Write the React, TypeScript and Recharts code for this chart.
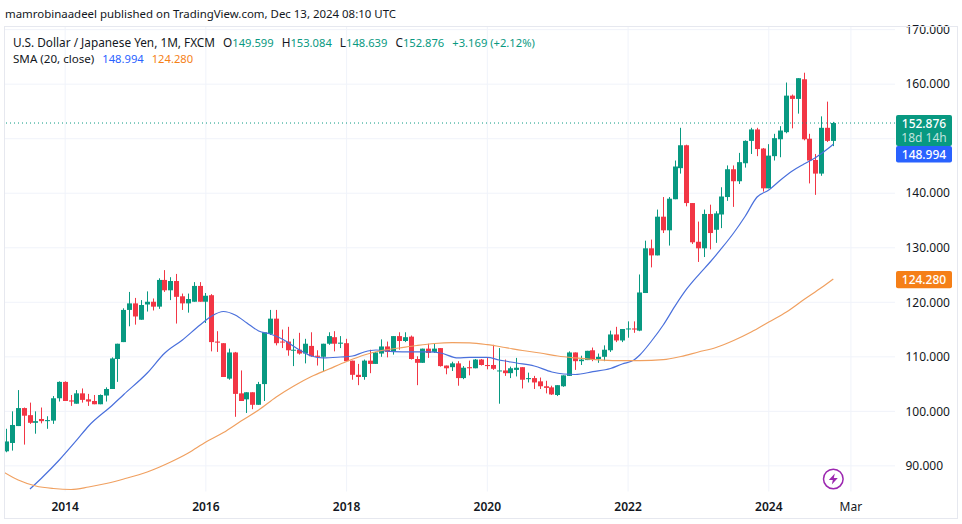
import React from "react";
import { ComposedChart, Bar, Line, XAxis, YAxis, CartesianGrid, ReferenceLine, ReferenceDot } from "recharts";

const FONT = '"Noto Sans", sans-serif';
const UP = "#089981";
const DOWN = "#f23645";
const INK = "#131722";
const BLUE = "#2962ff";
const ORANGE = "#f57f17";

// candle index 0 = Mar 2013, monthly, last = Dec 2024
const opens = [
  92.67, 94.2, 97.3, 100.6, 99.3, 97.9, 98.6, 98.2, 98.3, 102.4,
  105.4, 102.0, 101.4, 103.3, 102.2, 101.9, 101.3, 102.9, 104.1, 109.6,
  112.7, 118.6, 119.8, 116.8, 119.6, 120.1, 119.2, 124.1, 122.2, 123.9,
  121.1, 119.8, 120.1, 123.0, 120.1, 121.3, 112.8, 112.5, 106.0, 110.8,
  103.3, 102.2, 103.5, 101.2, 105.0, 114.2, 117.0, 112.8, 112.8, 111.2,
  111.3, 110.6, 112.0, 110.2, 110.0, 112.4, 113.6, 112.4, 112.5, 109.3,
  106.7, 106.3, 109.3, 108.7, 110.6, 111.9, 110.9, 113.8, 112.9, 113.7,
  109.6, 108.9, 111.5, 110.9, 111.6, 108.4, 108.1, 108.8, 106.1, 108.1,
  107.9, 109.5, 108.5, 108.5, 107.4, 107.5, 107.0, 107.6, 108.1, 105.9,
  106.1, 105.5, 104.6, 104.4, 103.0, 104.6, 106.5, 110.8, 109.2, 109.4,
  111.2, 109.6, 110.0, 111.2, 114.1, 113.0, 115.1, 115.2, 114.8, 121.7,
  129.9, 128.6, 135.7, 133.2, 138.9, 144.6, 148.8, 138.2, 131.1, 129.9,
  136.2, 133.3, 136.1, 139.3, 144.4, 142.2, 145.5, 149.6, 151.7, 148.2,
  140.9, 146.8, 149.9, 151.2, 157.9, 157.3, 160.9, 150.0, 146.1, 143.6,
  152.0, 149.599,
];
const highs = [
  96.8, 100.0, 103.9, 100.7, 101.6, 100.0, 100.7, 99.1, 102.8, 105.5,
  105.5, 103.0, 103.9, 104.2, 103.2, 103.0, 103.1, 104.4, 109.9, 112.4,
  118.9, 121.9, 120.8, 120.4, 122.0, 120.7, 124.4, 125.9, 124.6, 125.2,
  121.6, 121.6, 123.7, 123.7, 121.7, 121.5, 114.7, 112.5, 111.5, 110.9,
  107.5, 103.5, 103.5, 105.4, 114.5, 118.6, 118.6, 115.0, 115.5, 113.3,
  114.4, 113.3, 114.5, 111.2, 112.4, 114.5, 114.7, 113.8, 113.3, 109.3,
  108.7, 109.5, 111.3, 110.9, 113.2, 112.8, 113.8, 114.5, 114.5, 113.9,
  110.1, 111.5, 112.4, 112.5, 111.6, 108.4, 109.1, 109.2, 108.3, 109.3,
  109.6, 109.6, 109.8, 112.2, 111.6, 109.5, 108.2, 109.8, 108.1, 107.1,
  106.5, 106.2, 105.6, 104.7, 104.8, 106.6, 111.0, 110.8, 110.2, 111.1,
  111.7, 110.6, 112.1, 114.8, 115.5, 115.1, 116.5, 116.5, 125.1, 131.3,
  131.5, 137.0, 139.3, 139.3, 146.0, 152.0, 148.9, 138.2, 134.8, 137.0,
  137.9, 136.7, 141.1, 145.1, 145.1, 147.4, 149.7, 152.0, 152.0, 148.3,
  149.0, 150.9, 152.3, 160.3, 158.1, 161.1, 162.1, 150.9, 147.2, 154.1,
  156.8, 153.084,
];
const lows = [
  92.5, 92.8, 97.3, 93.9, 97.7, 95.9, 97.8, 96.8, 97.7, 101.8,
  101.9, 101.0, 101.4, 101.6, 101.0, 101.3, 101.3, 101.8, 104.1, 105.4,
  112.7, 115.6, 115.9, 116.8, 118.3, 118.5, 118.8, 121.9, 120.4, 116.1,
  118.6, 118.1, 120.1, 120.1, 116.2, 111.0, 110.9, 106.3, 105.8, 99.0,
  101.9, 99.7, 100.4, 101.2, 101.9, 114.0, 112.1, 111.6, 110.2, 108.3,
  110.4, 108.8, 110.0, 108.4, 107.4, 112.2, 111.0, 111.6, 109.2, 105.8,
  104.8, 105.8, 107.0, 108.7, 110.0, 109.9, 110.4, 111.3, 112.7, 109.5,
  104.8, 108.9, 109.8, 110.7, 108.2, 106.8, 107.4, 104.7, 105.9, 106.6,
  107.9, 108.4, 107.7, 107.6, 101.4, 106.5, 106.1, 106.4, 104.2, 105.3,
  104.1, 104.1, 103.3, 103.0, 102.8, 104.5, 106.5, 107.6, 108.5, 109.4,
  109.2, 108.9, 109.2, 110.9, 112.7, 112.7, 113.5, 114.4, 114.7, 121.7,
  126.4, 128.6, 132.7, 130.4, 138.9, 143.6, 137.6, 130.7, 127.4, 128.3,
  129.7, 130.9, 133.6, 138.6, 137.5, 141.7, 144.7, 147.2, 146.8, 140.3,
  140.9, 146.0, 146.6, 151.0, 151.9, 154.6, 149.7, 141.8, 139.7, 143.2,
  149.4, 148.639,
];
const closes = [
  94.48, 97.5, 100.6, 99.2, 97.9, 98.2, 98.2, 98.4, 102.4, 105.4,
  101.9, 101.8, 103.3, 102.1, 101.8, 101.3, 103.0, 104.1, 109.7, 112.4,
  118.6, 119.8, 117.4, 119.5, 120.1, 119.2, 124.1, 122.2, 123.9, 121.0,
  119.8, 120.6, 123.0, 120.1, 121.2, 112.7, 112.6, 106.3, 110.8, 103.2,
  101.9, 103.5, 101.2, 105.0, 114.5, 117.0, 112.5, 112.7, 111.2, 111.3,
  110.6, 112.4, 110.1, 110.0, 112.4, 113.8, 112.4, 112.6, 109.2, 106.7,
  106.3, 109.3, 108.7, 110.8, 111.9, 110.9, 113.8, 112.9, 113.6, 109.6,
  108.9, 111.5, 110.7, 111.5, 108.3, 107.9, 108.8, 106.1, 108.0, 107.9,
  109.5, 108.5, 108.3, 107.8, 107.5, 107.0, 107.9, 108.0, 105.8, 106.1,
  105.3, 104.6, 104.3, 103.1, 104.8, 106.6, 110.8, 109.2, 109.5, 111.1,
  109.5, 110.0, 111.3, 114.1, 113.0, 115.1, 115.2, 115.0, 121.8, 129.9,
  128.6, 135.7, 133.2, 139.0, 144.9, 148.8, 138.2, 131.0, 129.9, 136.2,
  132.7, 136.3, 139.4, 144.4, 142.2, 145.7, 149.6, 151.7, 148.1, 140.9,
  146.9, 150.1, 151.5, 157.9, 157.3, 161.1, 149.9, 146.0, 143.6, 152.0,
  149.6, 152.876,
];

const fastIdx = [
  4, 6, 9, 12, 14, 18, 20, 24, 27, 30, 33, 35, 37, 39, 41, 43, 45, 47, 50, 52, 54, 57, 59, 61, 63, 66, 69, 72,
  74, 77, 79, 82, 84, 87, 90, 93, 95, 97, 100, 103, 105, 107, 108, 110, 112, 114, 116, 118, 120, 122, 124, 126,
  128, 130, 132, 134, 136, 138, 140, 141,
];
const fastVal = [
  85.76, 87.78, 91.08, 94.75, 97.31, 101.08, 103.09, 107.03, 110.7, 113.09, 115.84, 117.49, 118.31, 117.67, 116.2,
  114.74, 114.19, 113.27, 111.25, 110.15, 109.79, 109.97, 110.15, 110.89, 111.25, 110.94, 110.89, 110.89,
  110.7, 109.79, 109.88, 109.88, 109.42, 108.87, 108.32, 107.22, 106.85, 106.76, 107.27, 107.86, 108.69, 109.42,
  110.34, 112.9, 115.84, 119.3, 122.44, 125.0, 127.39, 129.96, 132.71, 135.83, 139.31, 140.59, 142.43, 144.08,
  145.36, 146.55, 148.11, 148.994,
];
const slowIdx = [
  -1, 2, 5, 8, 11, 14, 17, 20, 24, 28, 31, 34, 37, 40, 43, 46, 49, 52, 55, 58, 61, 64, 67, 70, 73, 76, 79, 82, 85,
  88, 91, 94, 97, 100, 104, 108, 112, 115, 118, 121, 124, 127, 130, 133, 136, 139, 141,
];
const slowVal = [
  89.2, 87.41, 86.31, 85.85, 85.67, 86.13, 86.77, 87.6, 88.88, 90.71, 92.36, 94.38, 96.12, 98.23, 100.25, 102.63,
  104.65, 106.39, 107.77, 109.14, 110.34, 111.16, 111.62, 112.08, 112.44, 112.59, 112.54, 112.22, 111.71,
  111.16, 110.7, 110.15, 109.79, 109.51, 109.29, 109.29, 109.47, 110.06, 110.89, 111.71, 113.0, 114.55, 116.39,
  118.22, 120.51, 122.71, 124.28,
];

const xTicks = [10, 34, 58, 82, 106, 130, 144];
const xLabels = ["2014", "2016", "2018", "2020", "2022", "2024", "Mar"];
const gridValues = [90, 100, 110, 120, 130, 140, 150, 160, 170];
const yTicks = [90, 100, 110, 120, 130, 140, 160, 170];

const rows = Array.from({ length: 143 }, (_, k) => {
  const idx = k - 1;
  const fi = fastIdx.indexOf(idx);
  const si = slowIdx.indexOf(idx);
  return {
    idx,
    open: idx >= 0 ? opens[idx] : null,
    high: idx >= 0 ? highs[idx] : null,
    low: idx >= 0 ? lows[idx] : null,
    close: idx >= 0 ? closes[idx] : null,
    fast: fi >= 0 ? fastVal[fi] : null,
    slow: si >= 0 ? slowVal[si] : null,
  };
});

const Candle = (props: any) => {
  const { x, y, width, height, payload } = props;
  if (!payload || payload.high == null || !(height > 0)) return null;
  const { open, close, high, low } = payload;
  const k = height / (high - low);
  const up = close >= open;
  const color = up ? UP : DOWN;
  const cx = Math.round(x + width / 2) + 0.5;
  const top = y + (high - Math.max(open, close)) * k;
  const bh = Math.max(Math.abs(open - close) * k, 1);
  return (
    <g>
      <line x1={cx} x2={cx} y1={y} y2={y + height} stroke={color} strokeWidth={1} />
      <rect x={cx - 2.5} y={top} width={5} height={bh} fill={color} />
    </g>
  );
};

const XTick = (props: any) => {
  const { x, y, payload } = props;
  const label = xLabels[xTicks.indexOf(payload.value)];
  return (
    <text x={x} y={y + 11} textAnchor="middle" fontFamily={FONT} fontSize={12} fontWeight={label === "Mar" ? 400 : 600} fill={INK}>
      {label}
    </text>
  );
};

const Tag = (props: any) => {
  const { viewBox, color, text, sub, top, h } = props;
  const yy = viewBox.y;
  const xx = viewBox.x + viewBox.width + 1;
  return (
    <g>
      <rect x={xx} y={yy + top} width={56} height={h} rx={2} fill={color} />
      <text x={xx + 28} y={yy + top + 13} textAnchor="middle" fontFamily={FONT} fontSize={12} fontWeight={500} fill="#fff">
        {text}
      </text>
      {sub ? (
        <text x={xx + 28} y={yy + top + 27} textAnchor="middle" fontFamily={FONT} fontSize={12} fill="#fff" fillOpacity={0.75}>
          {sub}
        </text>
      ) : null}
    </g>
  );
};

const Bolt = (props: any) => {
  const { cx, cy } = props;
  return (
    <g>
      <circle cx={cx} cy={cy} r={9.8} fill="#fff" stroke="#9c27b0" strokeWidth={1.5} />
      <path
        d={`M${cx + 1.5} ${cy - 5.5}L${cx - 4.5} ${cy + 1}H${cx - 0.5}L${cx - 1.5} ${cy + 5.5}L${cx + 4.5} ${cy - 1}H${cx + 0.5}Z`}
        fill="#9c27b0"
      />
    </g>
  );
};

const legendVal = { fontSize: 11.2 };

export default function App() {
  return (
    <div style={{ position: "absolute", left: 0, top: 0, width: 962, height: 524, background: "#fff", overflow: "hidden" }}>
      <ComposedChart
        width={962}
        height={524}
        data={rows}
        margin={{ top: 26, right: 0, bottom: 0, left: 5 }}
      >
        <CartesianGrid stroke="#f0f3fa" verticalValues={xTicks} horizontalValues={gridValues} />
        <XAxis
          dataKey="idx"
          type="number"
          domain={[-0.256, 151.52]}
          allowDataOverflow
          ticks={xTicks}
          interval={0}
          height={32.5}
          axisLine={false}
          tickLine={false}
          tick={<XTick />}
        />
        <YAxis
          orientation="right"
          domain={[85.3, 170.67]}
          allowDataOverflow
          ticks={yTicks}
          interval={0}
          width={67}
          axisLine={false}
          tickLine={false}
          tickMargin={4.5}
          tick={{ fontFamily: FONT, fontSize: 12, fill: INK }}
          tickFormatter={(v: number) => v.toFixed(3)}
        />
        <Bar
          dataKey={(d: any) => (d.high == null ? null : [d.low, d.high])}
          barSize={5}
          shape={<Candle />}
          isAnimationActive={false}
        />
        <Line type="monotone" dataKey="fast" stroke="#4a70dc" strokeWidth={1.2} dot={false} connectNulls isAnimationActive={false} />
        <Line type="monotone" dataKey="slow" stroke="#f0a060" strokeWidth={1.2} dot={false} connectNulls isAnimationActive={false} />
        <ReferenceLine y={152.876} stroke={UP} strokeDasharray="1 3" label={<Tag color={UP} text="152.876" sub="18d 14h" top={-8} h={31} />} />
        <ReferenceLine y={148.994} stroke="none" label={<Tag color={BLUE} text="148.994" top={1.8} h={16.6} />} />
        <ReferenceLine y={124.28} stroke="none" label={<Tag color={ORANGE} text="124.280" top={-8} h={17.3} />} />
        <ReferenceDot x={141} y={87.6} shape={<Bolt />} />
      </ComposedChart>
      <div style={{ position: "absolute", left: 4, top: 26, width: 952, height: 491, border: "1px solid #e6e8ef", pointerEvents: "none" }} />
      <div style={{ position: "absolute", left: 5, top: 6, fontFamily: FONT, fontSize: 11.45, lineHeight: "16px", color: INK, whiteSpace: "nowrap" }}>
        mamrobinaadeel published on TradingView.com, Dec 13, 2024 08:10 UTC
      </div>
      <div style={{ position: "absolute", left: 13, top: 34, fontFamily: FONT, fontSize: 11.8, lineHeight: "16px", color: INK, whiteSpace: "nowrap" }}>
        U.S. Dollar / Japanese Yen, 1M, FXCM
        <span style={{ marginLeft: 8 }}>O</span><span style={{ ...legendVal, color: UP }}>149.599</span>
        <span style={{ marginLeft: 8 }}>H</span><span style={{ ...legendVal, color: UP }}>153.084</span>
        <span style={{ marginLeft: 8 }}>L</span><span style={{ ...legendVal, color: UP }}>148.639</span>
        <span style={{ marginLeft: 8 }}>C</span><span style={{ ...legendVal, color: UP }}>152.876</span>
        <span style={{ ...legendVal, marginLeft: 8, color: UP }}>+3.169 (+2.12%)</span>
      </div>
      <div style={{ position: "absolute", left: 13, top: 51, fontFamily: FONT, fontSize: 11.6, lineHeight: "16px", color: INK, whiteSpace: "nowrap" }}>
        SMA (20, close)<span style={{ ...legendVal, marginLeft: 8, color: BLUE }}>148.994</span>
        <span style={{ ...legendVal, marginLeft: 8, color: ORANGE }}>124.280</span>
      </div>
    </div>
  );
}
